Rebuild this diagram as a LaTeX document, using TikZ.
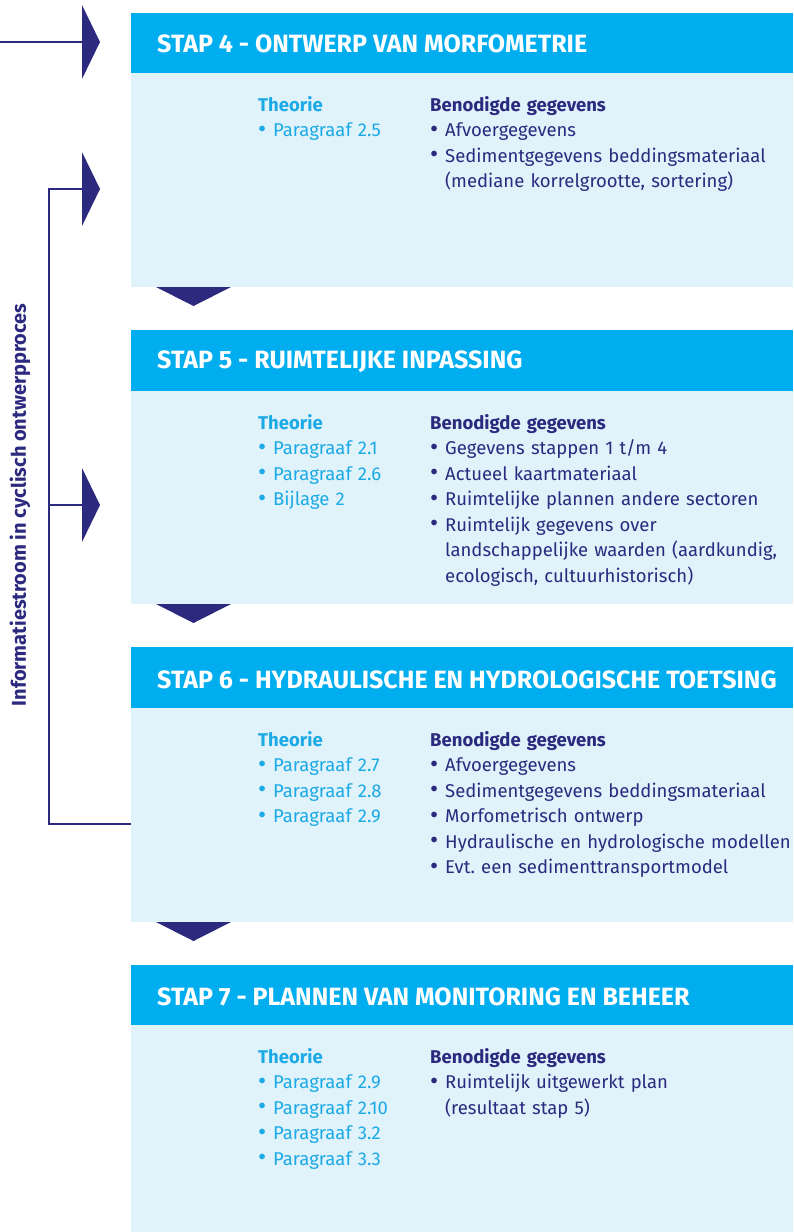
\documentclass[tikz,border=0pt]{standalone}
\usepackage{fontspec}
\setmainfont{Fira Sans}
\frenchspacing
\definecolor{hdr}{RGB}{0,174,239}
\definecolor{bodybg}{RGB}{224,242,250}
\definecolor{navy}{RGB}{44,42,127}
\definecolor{cyantext}{RGB}{27,170,230}
\newcommand{\bul}{\makebox[15pt][l]{\raisebox{-0.5pt}{\scalebox{1.35}{•}}}}
\newcommand{\ind}{\hspace*{15pt}}
\tikzset{
  hdrbox/.style={fill=hdr, draw=none, anchor=north west, minimum width=662pt, minimum height=60pt, inner sep=0pt},
  bodybox/.style={fill=bodybg, draw=none, anchor=north west, minimum width=662pt, inner sep=0pt},
  hdrtext/.style={anchor=west, inner sep=0pt, text=white, font=\fontsize{25}{28}\selectfont\bfseries},
  colth/.style={anchor=base west, inner sep=0pt, align=left, text width=160pt, text=cyantext, font=\fontsize{18.5}{25.5}\selectfont},
  colbg/.style={anchor=base west, inner sep=0pt, align=left, text width=370pt, text=navy, font=\fontsize{18.5}{25.5}\selectfont},
  downtri/.style={fill=navy},
  flow/.style={draw=navy, line width=1.3pt},
}
\begin{document}
\begin{tikzpicture}[x=1pt,y=-1pt]
\useasboundingbox (0,0) rectangle (793,1232);
\fill[white] (0,0) rectangle (793,1232);

% ---------- STAP 4
\node[hdrbox] (h4) at (131,13) {};
\node[bodybox, minimum height=214pt] (b4) at (131,73) {};
\node[hdrtext] (t4) at (157,44) {STAP 4 - ONTWERP VAN MORFOMETRIE};
\node[colth] (th4) at (258,111) {\textbf{Theorie}\\\bul Paragraaf 2.5};
\node[colbg] (bg4) at (430,111) {\textbf{Benodigde gegevens}\\\bul Afvoergegevens\\\bul Sedimentgegevens beddingsmateriaal\\\ind(mediane korrelgrootte, sortering)};
\fill[downtri] (156,287) -- (231,287) -- (193.5,306) -- cycle;

% ---------- STAP 5
\node[hdrbox, minimum height=61pt] (h5) at (131,330) {};
\node[bodybox, minimum height=213pt] (b5) at (131,391) {};
\node[hdrtext] (t5) at (157,362) {STAP 5 - RUIMTELIJKE INPASSING};
\node[colth] (th5) at (258,429) {\textbf{Theorie}\\\bul Paragraaf 2.1\\\bul Paragraaf 2.6\\\bul Bijlage 2};
\node[colbg] (bg5) at (430,429) {\textbf{Benodigde gegevens}\\\bul Gegevens stappen 1 t/m 4\\\bul Actueel kaartmateriaal\\\bul Ruimtelijke plannen andere sectoren\\\bul Ruimtelijk gegevens over\\\ind landschappelijke waarden (aardkundig,\\\ind ecologisch, cultuurhistorisch)};
\fill[downtri] (156,604) -- (231,604) -- (193.5,623) -- cycle;

% ---------- STAP 6
\node[hdrbox, minimum height=61pt] (h6) at (131,647) {};
\node[bodybox, minimum height=214pt] (b6) at (131,708) {};
\node[hdrtext] (t6) at (157,680) {STAP 6 - HYDRAULISCHE EN HYDROLOGISCHE TOETSING};
\node[colth] (th6) at (258,746) {\textbf{Theorie}\\\bul Paragraaf 2.7\\\bul Paragraaf 2.8\\\bul Paragraaf 2.9};
\node[colbg] (bg6) at (430,746) {\textbf{Benodigde gegevens}\\\bul Afvoergegevens\\\bul Sedimentgegevens beddingsmateriaal\\\bul Morfometrisch ontwerp\\\bul Hydraulische en hydrologische modellen\\\bul Evt. een sedimenttransportmodel};
\fill[downtri] (156,922) -- (231,922) -- (193.5,941) -- cycle;

% ---------- STAP 7
\node[hdrbox] (h7) at (131,965) {};
\node[bodybox, minimum height=207pt] (b7) at (131,1025) {};
\node[hdrtext] (t7) at (157,997) {STAP 7 - PLANNEN VAN MONITORING EN BEHEER};
\node[colth] (th7) at (258,1063) {\textbf{Theorie}\\\bul Paragraaf 2.9\\\bul Paragraaf 2.10\\\bul Paragraaf 3.2\\\bul Paragraaf 3.3};
\node[colbg] (bg7) at (430,1063) {\textbf{Benodigde gegevens}\\\bul Ruimtelijk uitgewerkt plan\\\ind(resultaat stap 5)};

% ---------- information flow
\coordinate (in1) at (0,42);
\coordinate (a1) at (82,42);
\coordinate (a2) at (82,189);
\coordinate (a3) at (82,505);
\coordinate (c2) at (49,189);
\coordinate (c3) at (49,505);
\coordinate (c6) at (49,824);
\coordinate (e6) at (b6.west |- c6);
\fill[navy] (82,5) -- (100,42) -- (82,79) -- cycle;
\fill[navy] (82,152) -- (100,189) -- (82,226) -- cycle;
\fill[navy] (82,468) -- (100,505) -- (82,542) -- cycle;
\draw[flow] (in1) -- (a1);
\draw[flow] (e6) -- (c6) -- (c2) -- (a2);
\draw[flow] (c3) -- (a3);
\node[rotate=90, inner sep=0pt, text=navy, font=\fontsize{20}{23}\selectfont\bfseries] (info) at (20,505) {Informatiestroom in cyclisch ontwerpproces};
\end{tikzpicture}
\end{document}
